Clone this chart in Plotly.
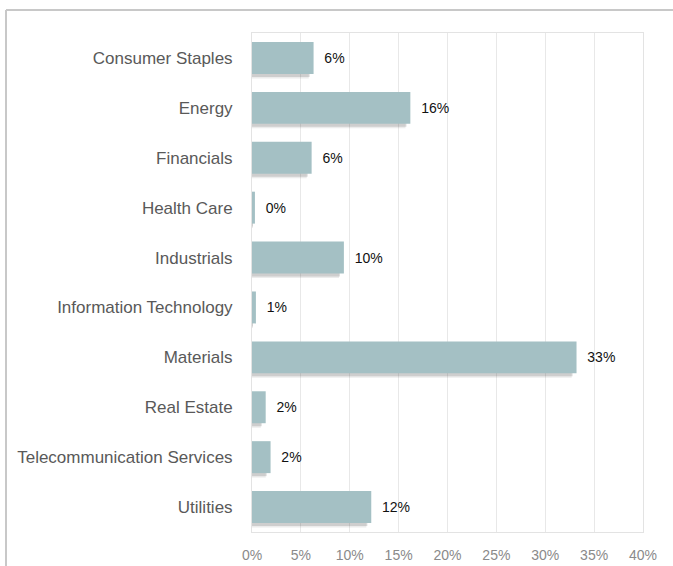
import plotly.graph_objects as go

categories = ["Consumer Staples", "Energy", "Financials", "Health Care", "Industrials",
              "Information Technology", "Materials", "Real Estate",
              "Telecommunication Services", "Utilities"]
values = [6.3, 16.2, 6.1, 0.3, 9.4, 0.4, 33.2, 1.4, 1.9, 12.2]
labels = ["6%", "16%", "6%", "0%", "10%", "1%", "33%", "2%", "2%", "12%"]
tick_vals = [0, 5, 10, 15, 20, 25, 30, 35, 40]
tick_text = ["0%", "5%", "10%", "15%", "20%", "25%", "30%", "35%", "40%"]

W, H = 673, 566
ml, mr, mt, mb = 252, 30, 33, 34
pw, ph = W - ml - mr, H - mt - mb
FONT = "Liberation Sans, Arial, sans-serif"

fig = go.Figure()
# soft shadow layers
for off, alpha, trim in [(0.09, 0.10, 0.5), (0.06, 0.18, 0.4)]:
    fig.add_trace(go.Bar(
        y=categories, x=[max(v - trim, 0.1) for v in values], orientation="h",
        width=0.64, offset=-0.32 + off,
        marker=dict(color=f"rgba(70,70,70,{alpha})", line=dict(width=0)),
        hoverinfo="skip", showlegend=False))
fig.add_trace(go.Bar(
    y=categories, x=values, orientation="h",
    width=0.64, offset=-0.32,
    marker=dict(color="#a4c0c4", line=dict(width=0)),
    text=["  " + t for t in labels], textposition="outside",
    textfont=dict(family=FONT, size=14, color="#111111"),
    cliponaxis=False, showlegend=False))

def px_x(p):
    return (p - ml) / pw

def px_y(p):
    return 1 - (p - mt) / ph

shapes = [
    dict(type="line", xref="paper", yref="paper", x0=px_x(6), x1=px_x(W), y0=px_y(10), y1=px_y(10),
         line=dict(color="#c8c8c8", width=2)),
    dict(type="line", xref="paper", yref="paper", x0=px_x(6), x1=px_x(6), y0=px_y(10), y1=px_y(H),
         line=dict(color="#c8c8c8", width=2)),
]

fig.update_layout(
    width=W, height=H, margin=dict(l=ml, r=mr, t=mt, b=mb),
    paper_bgcolor="white", plot_bgcolor="white", barmode="overlay",
    shapes=shapes,
    xaxis=dict(range=[0, 40], tickvals=tick_vals, ticktext=tick_text, showgrid=True,
               gridcolor="#e8e8e8", gridwidth=1, zeroline=False, automargin=False,
               showline=True, linecolor="#e3e3e3", mirror=True, ticks="", ticklen=0,
               ticklabelstandoff=10,
               tickfont=dict(family=FONT, size=14, color="#8a8a8a")),
    yaxis=dict(autorange="reversed", showgrid=False, zeroline=False, automargin=False,
               showline=True, linecolor="#e3e3e3", mirror=True, ticks="",
               ticklabelstandoff=15,
               tickfont=dict(family=FONT, size=17, color="#595959")),
)

fig.write_html("out.html", config={"displayModeBar": False},
               post_script="document.body.style.margin='0';")
